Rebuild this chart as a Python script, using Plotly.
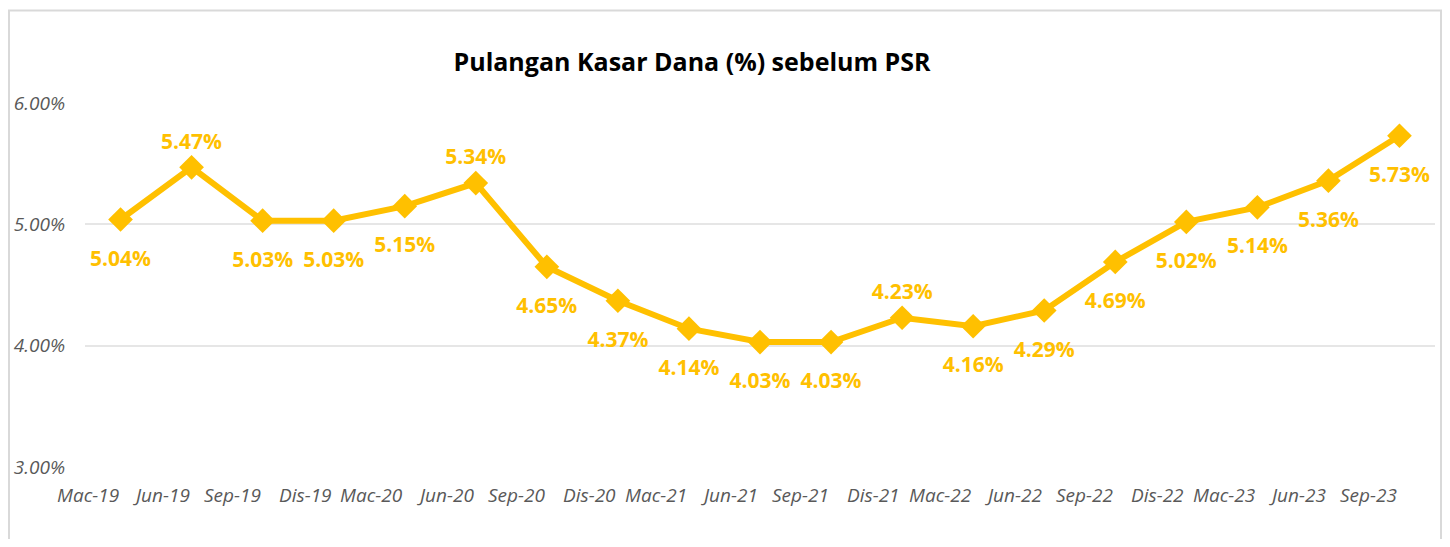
import plotly.graph_objects as go

categories = ["Mac-19", "Jun-19", "Sep-19", "Dis-19", "Mac-20", "Jun-20", "Sep-20",
              "Dis-20", "Mac-21", "Jun-21", "Sep-21", "Dis-21", "Mac-22", "Jun-22",
              "Sep-22", "Dis-22", "Mac-23", "Jun-23", "Sep-23"]
values = [5.04, 5.47, 5.03, 5.03, 5.15, 5.34, 4.65, 4.37, 4.14, 4.03, 4.03,
          4.23, 4.16, 4.29, 4.69, 5.02, 5.14, 5.36, 5.73]
label_above = [False, True, False, False, False, True, False, False, False, False,
               False, True, False, False, False, False, False, False, False]
y_ticks = [3, 4, 5, 6]

GOLD = "#FFC000"
x = list(range(len(categories)))

W, H = 1434, 531
ML, MR, MT, MB = 77, 7, 95, 72
PW, PH = W - ML - MR, H - MT - MB

fig = go.Figure()
fig.add_trace(go.Scatter(
    x=x, y=values, mode="lines+markers",
    line=dict(color=GOLD, width=6),
    marker=dict(symbol="diamond", size=19, color=GOLD),
    showlegend=False, hoverinfo="skip",
))
# data labels (invisible spacer markers control the label offset)
fig.add_trace(go.Scatter(
    x=x, y=values, mode="markers+text",
    marker=dict(size=[20 if a else 47 for a in label_above], opacity=0),
    text=[f"{v:.2f}%" for v in values],
    textposition=["top center" if a else "bottom center" for a in label_above],
    textfont=dict(family="Open Sans", size=21, color=GOLD, weight="bold"),
    cliponaxis=False, showlegend=False, hoverinfo="skip",
))

annotations = [dict(text=c, x=i, xref="x", y=0, yref="paper", yshift=-28,
                    xanchor="right", yanchor="middle", showarrow=False,
                    font=dict(family="Open Sans", size=19, color="#595959", style="italic"))
               for i, c in zip(x, categories)]

fig.update_layout(
    width=W, height=H,
    margin=dict(l=ML, r=MR, t=MT, b=MB),
    paper_bgcolor="white", plot_bgcolor="white",
    title=dict(text="<b>Pulangan Kasar Dana (%) sebelum PSR</b>",
               x=684 / W, xanchor="center", xref="container",
               y=1 - 54 / H, yanchor="middle", yref="container",
               font=dict(family="Open Sans", size=25, color="black")),
    xaxis=dict(
        range=[-0.5, len(categories) - 0.5],
        showticklabels=False,
        showgrid=False, zeroline=False, showline=False, ticks="",
    ),
    yaxis=dict(
        range=[3, 6], tickvals=y_ticks,
        ticktext=[f"{v:.2f}%" for v in y_ticks],
        showgrid=True, gridcolor="#E6E6E6", gridwidth=2, zeroline=False,
        showline=False, ticks="",
        tickfont=dict(family="Open Sans", size=19, color="#595959", style="italic"),
        ticklabelstandoff=19,
    ),
    annotations=annotations,
    shapes=[dict(type="rect", xref="paper", yref="paper",
                 x0=-(ML - 1) / PW, x1=(PW + MR - 1) / PW,
                 y0=-(MB + 20) / PH, y1=(PH + MT - 2.5) / PH,
                 line=dict(color="#D9D9D9", width=2), fillcolor="rgba(0,0,0,0)", layer="below")],
)

fig.write_html("out.html")
